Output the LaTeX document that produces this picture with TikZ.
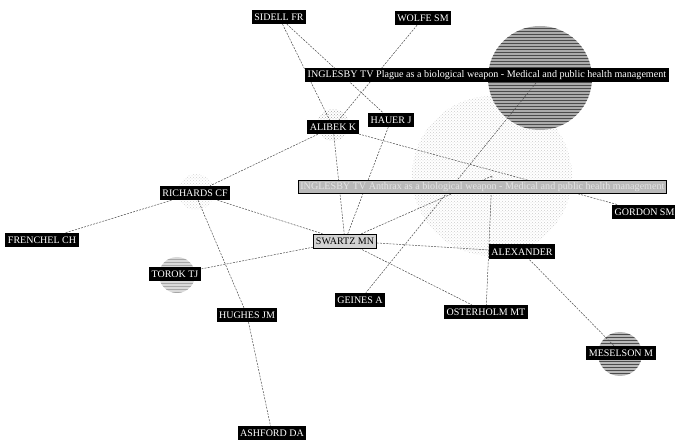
\documentclass[tikz,border=0pt]{standalone}
\usepackage{fontspec}
\setmainfont{Liberation Serif}
\usetikzlibrary{patterns,backgrounds}
\begin{document}
\begin{tikzpicture}[x=1pt,y=-1pt,
  lbl/.style={fill=black,text=white,inner xsep=2.5pt,inner ysep=1.5pt,minimum height=14pt,
    font=\fontsize{10}{11}\selectfont},
  longlbl/.style={lbl,font=\fontsize{10.1}{11}\selectfont},
  greybar/.style={fill=gray!55,draw=black,line width=0.7pt,text=white!80!gray,inner xsep=2pt,
    inner ysep=1pt,minimum height=13pt,font=\fontsize{10.1}{11}\selectfont},
  link/.style={draw=gray!60!black,line width=0.5pt,dash pattern=on 2pt off 1.2pt},
  blob/.style={circle,inner sep=0pt}]
\useasboundingbox (0,0) rectangle (675,446);
\clip (0,0) rectangle (675,446);

% labels
\node[lbl] (sidell) at (279,17) {SIDELL FR};
\node[lbl] (wolfe) at (423,18) {WOLFE SM};
\node[longlbl,anchor=west] (plaguebar) at (305,75) {INGLESBY TV Plague as a biological weapon - Medical and public health management};
\node[lbl] (alibek) at (333,127) {ALIBEK K};
\node[lbl] (hauer) at (391,120) {HAUER J};
\node[greybar,anchor=west] (anthraxbar) at (298,187) {INGLESBY TV Anthrax as a biological weapon - Medical and public health management};
\node[lbl] (richards) at (195,193) {RICHARDS CF};
\node[lbl] (frenchel) at (42,240) {FRENCHEL CH};
\node[lbl,fill=gray!35,text=black,draw=black,line width=0.4pt] (swartz) at (345,241) {SWARTZ MN};
\node[lbl] (torok) at (175,274) {TOROK TJ};
\node[lbl] (hughes) at (247,315) {HUGHES JM};
\node[lbl] (ashford) at (272,433) {ASHFORD DA};
\node[lbl] (geines) at (360,300) {GEINES A};
\node[lbl] (osterholm) at (486,312) {OSTERHOLM MT};
\node[lbl,minimum height=15pt] (alexander) at (522,252) {ALEXANDER};
\node[lbl,anchor=west] (gordon) at (612,212) {GORDON SM};
\node[lbl] (meselson) at (621,353) {MESELSON M};

\begin{scope}[on background layer]
  % citation circles
  \node[blob,minimum size=160pt,fill=gray!8,pattern=crosshatch dots,pattern color=gray!40] (anthrax) at (492,176) {};
  \node[blob,minimum size=104pt,fill=gray!65] (plague) at (540,78) {};
  \fill[pattern=horizontal lines,pattern color=black!70] (540,78) circle (52pt);
  \node[blob,minimum size=32pt,fill=gray!30,pattern=crosshatch dots,pattern color=gray!70] at (333,125) {};
  \node[blob,minimum size=36pt,pattern=crosshatch dots,pattern color=gray!35] at (196,192) {};
  \node[blob,minimum size=36pt,fill=gray!30] at (177,275) {};
  \fill[pattern=horizontal lines,pattern color=gray!70] (177,275) circle (18pt);
  \node[blob,minimum size=44pt,fill=gray!55] at (620,354) {};
  \fill[pattern=horizontal lines,pattern color=black!70] (620,354) circle (22pt);
  % connectors
  \draw[link] (sidell) -- (alibek);
  \draw[link] (sidell) -- (hauer);
  \draw[link] (wolfe) -- (alibek);
  \draw[link] (alibek) -- (richards);
  \draw[link] (alibek) -- (swartz);
  \draw[link] (alibek) -- (gordon);
  \draw[link] (hauer) -- (swartz);
  \draw[link] (richards) -- (frenchel);
  \draw[link] (richards) -- (swartz);
  \draw[link] (richards) -- (hughes);
  \draw[link] (hughes) -- (ashford);
  \draw[link] (swartz) -- (torok);
  \draw[link] (swartz) -- (alexander);
  \draw[link] (swartz) -- (osterholm);
  \draw[link] (swartz) -- (anthrax.center);
  \draw[link] (plague.center) -- (geines);
  \draw[link] (anthrax.center) -- (osterholm);
  \draw[link] (alexander) -- (meselson);
\end{scope}
\end{tikzpicture}
\end{document}
